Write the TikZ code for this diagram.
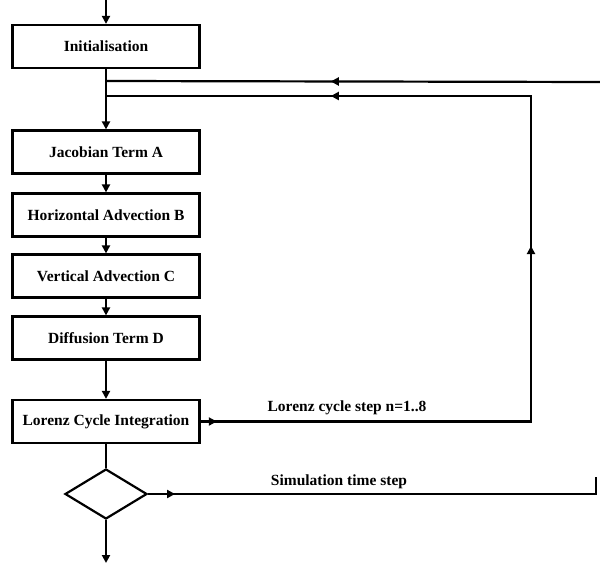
\documentclass[tikz,border=0pt]{standalone}
\usepackage{fontspec}
\setmainfont{Liberation Serif}
\usetikzlibrary{arrows.meta,shapes.geometric,decorations.markings}

\begin{document}
\begin{tikzpicture}[x=1pt,y=-1pt,
  >={Triangle[length=8pt,width=8pt]},
  flow/.style={line width=2.2pt},
  box/.style={draw,line width=2.2pt,minimum width=187pt,minimum height=43pt,inner sep=0pt,font=\fontsize{15.5}{18}\selectfont\bfseries},
  decision/.style={draw,diamond,line width=2.2pt,minimum width=82pt,minimum height=50pt,inner sep=0pt},
  lbl/.style={font=\fontsize{15.5}{18}\selectfont\bfseries},
  arrowat/.style={postaction={decorate,decoration={markings,mark=at position #1 with {\arrow{>}}}}}
]
\useasboundingbox (0,0) rectangle (600,564);

\node[box] (init) at (106,46.5) {Initialisation};
\node[box] (jac) at (106,152) {Jacobian Term A};
\node[box] (horiz) at (106,215) {Horizontal Advection B};
\node[box] (vert) at (106,276) {Vertical Advection C};
\node[box] (diff) at (106,338) {Diffusion Term D};
\node[box] (lorenz) at (106,421.5) {Lorenz Cycle Integration};
\node[decision] (dec) at (106,494) {};

\node[lbl] (lzlab) at (347,408) {Lorenz cycle step n=1..8};
\node[lbl] (simlab) at (339,482) {Simulation time step};

\coordinate (start) at (106,0);
\coordinate (finish) at (106,563);
\coordinate (j1) at (106,81);
\coordinate (j2) at (106,96);
\coordinate (outer) at (600,82);
\coordinate (c1) at (531,421.5);
\coordinate (c2) at (531,96);
\coordinate (s1) at (596,494);
\coordinate (s2) at (596,477);

% main chain
\draw[flow,->] (start) -- (init.north);
\draw[flow,->] (init.south) -- (jac.north);
\draw[flow,->] (jac.south) -- (horiz.north);
\draw[flow,->] (horiz.south) -- (vert.north);
\draw[flow,->] (vert.south) -- (diff.north);
\draw[flow,->] (diff.south) -- (lorenz.north);
\draw[flow] (lorenz.south) -- (dec.north);
\draw[flow,->] (dec.south) -- (finish);

% loops
\draw[flow,line join=miter,arrowat=0.015,arrowat=0.468,arrowat=0.792] (lorenz.east) -- (c1) -- (c2) -- (j2);
\draw[flow,arrowat=0.545] (outer) -- (j1);
\draw[flow,line join=miter,arrowat=0.058] (dec.east) -- (s1) -- (s2);

\end{tikzpicture}
\end{document}
